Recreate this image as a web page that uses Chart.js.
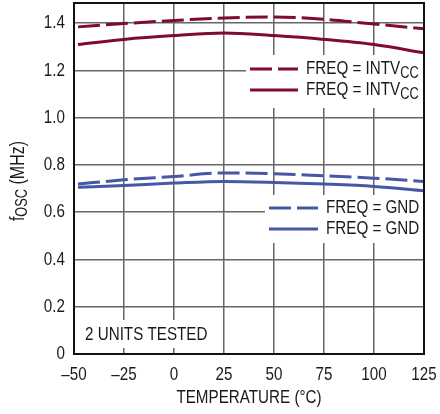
<!DOCTYPE html>
<html>
<head>
<meta charset="utf-8">
<script src="https://cdn.jsdelivr.net/npm/chart.js@4"></script>
<style>
  html, body { margin: 0; padding: 0; background: #fff; }
  #wrap { width: 440px; height: 414px; }
</style>
</head>
<body>
<div id="wrap"><canvas id="chart" width="440" height="414"></canvas></div>
<script>
// temperatures (°C) where the curves were read
const temps = [-48, -25, 0, 25, 50, 75, 100, 125];

// fOSC (MHz), 2 units each
const intvccDashed = [1.384, 1.398, 1.411, 1.422, 1.426, 1.416, 1.396, 1.376];
const intvccSolid  = [1.309, 1.331, 1.347, 1.358, 1.347, 1.331, 1.309, 1.274];
const gndDashed    = [0.719, 0.737, 0.751, 0.766, 0.763, 0.754, 0.744, 0.730];
const gndSolid     = [0.705, 0.713, 0.723, 0.730, 0.726, 0.719, 0.709, 0.691];

const xTicks = [-50, -25, 0, 25, 50, 75, 100, 125];
const yTicks = [0, 0.2, 0.4, 0.6, 0.8, 1.0, 1.2, 1.4];

const MAROON = '#7f0a35';
const BLUE = '#4657a6';
const FONT = '"Liberation Sans", Arial, sans-serif';
const TXT = '#1a1a1a';
const SQUEEZE = 0.80;   // condensed look of the original lettering

const toPts = vals => temps.map((t, i) => ({ x: t, y: vals[i] }));

const line = (vals, color, dashed) => ({
    data: toPts(vals),
    borderColor: color,
    borderWidth: 3,
    borderDash: dashed ? [22, 6] : [],
    pointRadius: 0,
    fill: false,
    tension: 0.4,
    cubicInterpolationMode: 'monotone'
});

// text runs: [string, size, baseline shift]; drawn narrowed horizontally
function runs(ctx, x, y, parts, align) {
    let total = 0;
    parts.forEach(p => { ctx.font = p[1] + 'px ' + FONT; total += ctx.measureText(p[0]).width * SQUEEZE; });
    let cx = align === 'center' ? x - total / 2 : align === 'right' ? x - total : x;
    parts.forEach(p => {
        ctx.font = p[1] + 'px ' + FONT;
        ctx.save();
        ctx.translate(cx, y + (p[2] || 0));
        ctx.scale(SQUEEZE, 1);
        ctx.fillText(p[0], 0, 0);
        ctx.restore();
        cx += ctx.measureText(p[0]).width * SQUEEZE;
    });
}

const decor = {
    id: 'decor',
    beforeDatasetsDraw(chart) {
        const ctx = chart.ctx;
        ctx.save();
        ctx.fillStyle = '#fff';
        ctx.fillRect(246, 55, 177, 53);   // INTVCC legend
        ctx.fillRect(265, 195, 158, 48);  // GND legend
        ctx.fillRect(79, 320, 136, 28);   // note
        ctx.restore();
    },
    afterDraw(chart) {
        const ctx = chart.ctx;
        const a = chart.chartArea;
        const xs = chart.scales.x, ys = chart.scales.y;
        ctx.save();

        // frame
        ctx.strokeStyle = '#111';
        ctx.lineWidth = 2;
        ctx.strokeRect(a.left, a.top, a.right - a.left, a.bottom - a.top);

        ctx.fillStyle = TXT;
        ctx.textBaseline = 'middle';
        ctx.textAlign = 'left';

        // tick labels
        xTicks.forEach(v => {
            const s = v < 0 ? '\u2013' + Math.abs(v) : String(v);
            runs(ctx, xs.getPixelForValue(v), a.bottom + 21, [[s, 19]], 'center');
        });
        yTicks.forEach(v => {
            const s = v === 0 ? '0' : v.toFixed(1);
            runs(ctx, a.left - 9, ys.getPixelForValue(v), [[s, 19]], 'right');
        });

        // x axis title
        runs(ctx, (a.left + a.right) / 2, 398, [['TEMPERATURE (°C)', 19]], 'center');

        // legends
        const legendRows = [
            { x: 250, y: 69, len: 48, color: MAROON, dash: [22, 6], main: 'FREQ = INTV', sub: 'CC' },
            { x: 250, y: 90, len: 48, color: MAROON, dash: [], main: 'FREQ = INTV', sub: 'CC' },
            { x: 269, y: 208, len: 49, color: BLUE, dash: [22, 6], main: 'FREQ = GND', sub: '' },
            { x: 269, y: 229, len: 49, color: BLUE, dash: [], main: 'FREQ = GND', sub: '' }
        ];
        legendRows.forEach(r => {
            ctx.strokeStyle = r.color;
            ctx.lineWidth = 3;
            ctx.setLineDash(r.dash);
            ctx.beginPath();
            ctx.moveTo(r.x, r.y);
            ctx.lineTo(r.x + r.len, r.y);
            ctx.stroke();
            ctx.setLineDash([]);
            runs(ctx, r.x + r.len + 8, r.y, [[r.main, 19], [r.sub, 16, 5]], 'left');
        });

        // note
        runs(ctx, 85, 335, [['2 UNITS TESTED', 19]], 'left');

        // y axis title
        ctx.translate(18, 181);
        ctx.rotate(-Math.PI / 2);
        runs(ctx, 0, 0, [['f', 20], ['OSC', 16, 5], [' (MHz)', 20]], 'center');
        ctx.restore();
    }
};

new Chart(document.getElementById('chart'), {
    type: 'line',
    data: {
        datasets: [
            line(intvccDashed, MAROON, true),
            line(intvccSolid, MAROON, false),
            line(gndDashed, BLUE, true),
            line(gndSolid, BLUE, false)
        ]
    },
    options: {
        responsive: false,
        animation: false,
        layout: { padding: { top: 3, right: 16, left: 0, bottom: 0 } },
        plugins: { legend: { display: false }, tooltip: { enabled: false } },
        scales: {
            x: {
                type: 'linear',
                min: -50,
                max: 125,
                afterBuildTicks: s => { s.ticks = xTicks.map(v => ({ value: v })); },
                afterFit: s => { s.height = 60; s.paddingLeft = 0; s.paddingRight = 0; },
                grid: { color: '#666', lineWidth: 1.5, drawTicks: false },
                border: { display: false },
                ticks: { display: false }
            },
            y: {
                min: 0,
                max: 1.485,
                afterBuildTicks: s => { s.ticks = yTicks.map(v => ({ value: v })); },
                afterFit: s => { s.width = 74; s.paddingTop = 0; s.paddingBottom = 0; },
                grid: { color: '#666', lineWidth: 1.5, drawTicks: false },
                border: { display: false },
                ticks: { display: false }
            }
        }
    },
    plugins: [decor]
});
</script>
</body>
</html>
